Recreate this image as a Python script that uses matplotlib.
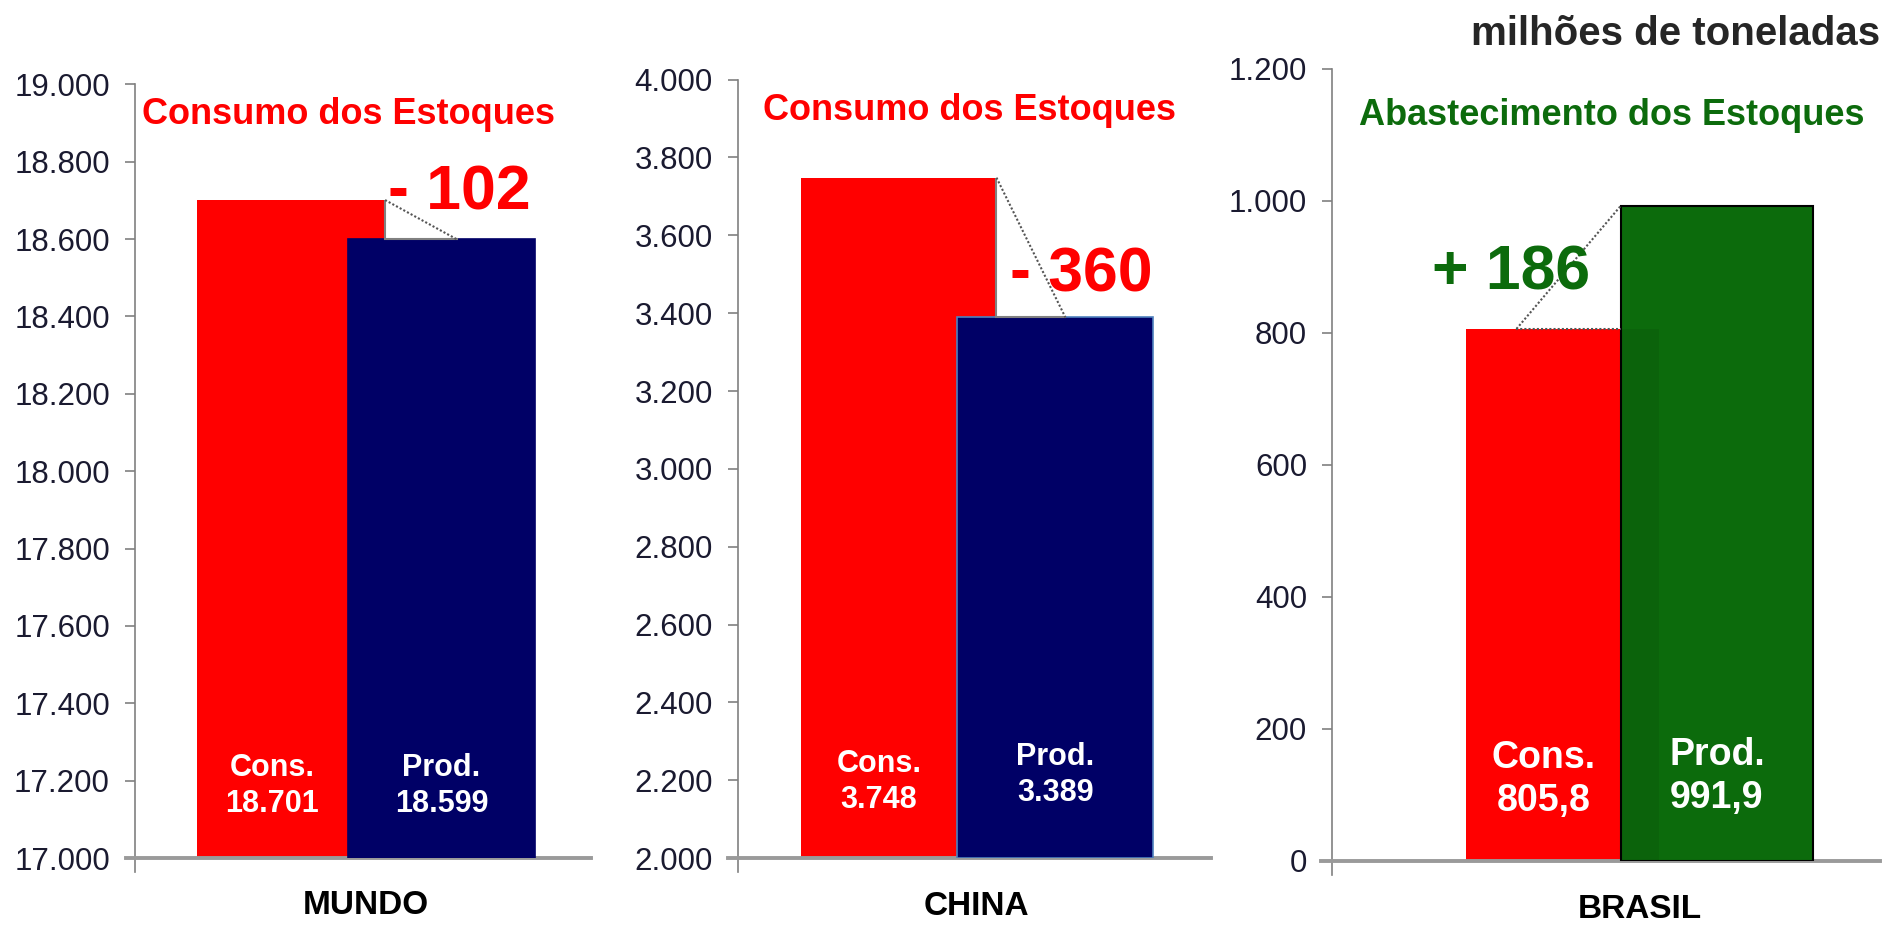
import matplotlib
matplotlib.use("Agg")
import matplotlib.pyplot as plt
import matplotlib.transforms as mtransforms
from matplotlib.patches import Rectangle
import numpy as np

plt.rcParams['font.family'] = ['Liberation Sans', 'DejaVu Sans']

# ---------------- data ----------------
regions = ["MUNDO", "CHINA", "BRASIL"]
consumo = [18701, 3748, 805.8]
producao = [18599, 3389, 991.9]
cons_labels = ["18.701", "3.748", "805,8"]
prod_labels = ["18.599", "3.389", "991,9"]
diff_labels = ["- 102", "- 360", "+ 186"]
titles = ["Consumo dos Estoques", "Consumo dos Estoques", "Abastecimento dos Estoques"]
y_limits = [(17000, 19000), (2000, 4000), (0, 1200)]
y_step = 200
unit_label = "milhões de toneladas"

RED = "#FF0000"
NAVY = "#000066"
GREEN = "#0C6B0C"
title_colors = [RED, RED, GREEN]

# ---------------- layout ----------------
fig = plt.figure(figsize=(18.9, 9.25), dpi=100)
positions = [
    [0.0714, 0.0724, 0.2413, 0.8364],
    [0.3903, 0.0722, 0.2506, 0.8418],
    [0.7048, 0.0695, 0.2900, 0.8562],
]
xlims = [(-1.040, 1.996), (-1.027, 1.996), (-1.496, 2.059)]
title_xy = [(0.0751, 0.8762), (0.4037, 0.8800), (0.7188, 0.8750)]
diff_pos = [(0.647, 18720), (0.71, 3498), (-0.85, 890)]
label_y = [(0.093, 0.093), (0.0975, 0.107), (0.102, 0.106)]
label_fs = [22, 22, 27]
cat_y = [-0.062, -0.062, -0.062]
W = 1.25

def fmt(v):
    return f"{v:,.0f}".replace(",", ".")

for i in range(3):
    ax = fig.add_axes(positions[i])
    lo, hi = y_limits[i]
    c, p = consumo[i], producao[i]
    x0, x1 = 0, 1

    ax.bar(x0, c - lo, bottom=lo, width=W, color=RED, zorder=2, linewidth=0)
    if i < 2:
        ax.bar(x1, p - lo, bottom=lo, width=W, color=NAVY, zorder=3,
               edgecolor="#4F81BD" if i == 1 else NAVY, linewidth=1.2)
    else:
        gb = ax.bar(x1, p - lo, bottom=lo, width=W, color=GREEN,
                    zorder=3, edgecolor="black", linewidth=1.5)
        # slight darkening where the red bar lies behind the green one
        shade = Rectangle((x0 - W / 2, lo), W, c - lo, facecolor="black",
                          alpha=0.07, linewidth=0, zorder=3.5)
        ax.add_patch(shade)
        shade.set_clip_path(gb.patches[0])

    ax.set_xlim(*xlims[i])
    ax.set_ylim(lo, hi)
    ticks = np.arange(lo, hi + 1, y_step)
    ax.set_yticks(ticks)
    ax.set_yticklabels([fmt(t) for t in ticks])
    ax.tick_params(axis='y', direction='out', length=7, width=1.2,
                   color="#808080", labelsize=22.5, labelcolor="#1a1a30", pad=11)
    ax.set_xticks([])
    for s in ["top", "right"]:
        ax.spines[s].set_visible(False)
    ax.spines["left"].set_color("#808080")
    ax.spines["left"].set_linewidth(1.2)
    ax.spines["left"].set_bounds(lo - (hi - lo) * 0.018, hi)
    xl0, xl1 = xlims[i]
    ax.spines["bottom"].set_color("#9a9a9a")
    ax.spines["bottom"].set_linewidth(2.8)
    ax.spines["bottom"].set_bounds(xl0 - (xl1 - xl0) * 0.02, xl1)
    ax.set_zorder(1)

    # connector triangle
    if i < 2:
        xr = x0 + W / 2
        xe = xr + 0.48 if i == 0 else xr + 0.44
        ax.plot([xr, xr], [c, p], color="#808080", lw=1.5, zorder=4, solid_capstyle='butt')
        ax.plot([xr, xe], [p, p], color="#808080", lw=1.5, zorder=4)
        ax.plot([xr, xe], [c, p], color="#555555", lw=1.5, ls=(0, (1, 1)), zorder=4)
    else:
        xl = -0.30
        xg = x1 - W / 2
        ax.plot([xl, xg], [c, c], color="#555555", lw=1.5, ls=(0, (1, 1)), zorder=4)
        ax.plot([xl, xg], [c, p], color="#555555", lw=1.5, ls=(0, (1, 1)), zorder=4)

    # difference label
    dx, dy = diff_pos[i]
    ax.text(dx, dy, diff_labels[i], color=title_colors[i], fontsize=45,
            fontweight="bold", ha="left", va="center", zorder=6)

    # inside bar labels
    trans = mtransforms.blended_transform_factory(ax.transData, ax.transAxes)
    xc_red = ((x0 - W / 2) + (x1 - W / 2)) / 2
    ax.text(xc_red, label_y[i][0], "Cons.\n" + cons_labels[i], transform=trans,
            color="white", fontsize=label_fs[i], fontweight="bold",
            ha="center", va="center", linespacing=1.25, zorder=6)
    ax.text(x1, label_y[i][1], "Prod.\n" + prod_labels[i], transform=trans,
            color="white", fontsize=label_fs[i], fontweight="bold",
            ha="center", va="center", linespacing=1.25, zorder=6)

    # category label
    ax.text(0.5, cat_y[i], regions[i], transform=trans, color="black",
            fontsize=24, fontweight="bold", ha="center", va="center")

    # panel title
    fig.text(title_xy[i][0], title_xy[i][1], titles[i], color=title_colors[i],
             fontsize=26, fontweight="bold", ha="left", va="center")

fig.text(0.9947, 0.9635, unit_label, color="#262626", fontsize=29,
         fontweight="bold", ha="right", va="center")

fig.savefig("out.png", dpi=100, facecolor="white")
